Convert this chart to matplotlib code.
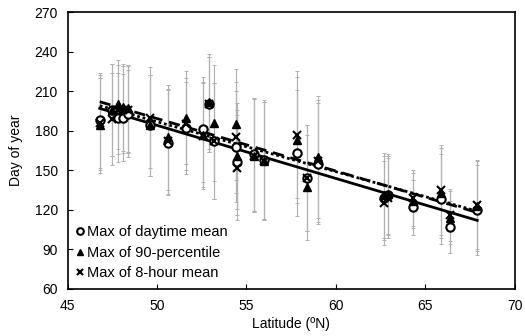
import matplotlib
matplotlib.use("Agg")
import matplotlib.pyplot as plt
import numpy as np

plt.rcParams['font.family'] = ['Liberation Sans', 'DejaVu Sans']

latitude = [46.8, 47.5, 47.8, 48.1, 48.4, 49.6, 50.6, 51.6, 52.6, 52.9, 53.2,
            54.4, 54.5, 55.4, 56.0, 57.8, 58.4, 59.0, 62.7, 62.9, 64.3, 65.9, 66.4, 67.9]
daytime_mean = [188, 196, 190, 190, 193, 184, 171, 182, 181, 200, 172,
                168, 156, 162, 158, 163, 144, 155, 129, 131, 122, 128, 107, 120]
pct90 = [184, 196, 200, 198, 197, 184, 175, 190, 177, 202, 186,
         185, 161, 161, 157, 173, 137, 160, 131, 132, 127, 133, 114, 123]
hour8_mean = [186, 189, 196, 196, 196, 190, 172, 185, 176, 200, 172,
              175, 152, 161, 157, 177, 144, 157, 125, 129, 129, 135, 116, 124]
sd = [36, 35, 34, 33, 33, 38, 40, 35, 40, 36, 44,
      42, 40, 43, 45, 48, 40, 46, 32, 30, 21, 34, 20, 34]

# regression lines: value at 46.8 and at 67.9
fit_lat = [46.8, 67.9]
fit_daytime = [197, 112]
fit_pct90 = [202, 118]
fit_hour8 = [199, 119]

fig = plt.figure(figsize=(5.25, 3.36), dpi=100)
ax = fig.add_axes([0.1286, 0.14, 0.852, 0.824])

err_kw = dict(fmt='none', ecolor='#b0b0b0', elinewidth=0.8, capsize=1.6, capthick=0.7, zorder=1)
for vals in (daytime_mean, pct90, hour8_mean):
    ax.errorbar(latitude, vals, yerr=sd, **err_kw)

ax.plot(fit_lat, fit_daytime, color='black', lw=2.0, ls='-', zorder=2)
ax.plot(fit_lat, fit_pct90, color='black', lw=2.0, ls=(0, (4, 2.5)), zorder=2)
ax.plot(fit_lat, fit_hour8, color='black', lw=2.0, ls=(0, (1, 1)), zorder=2)

ax.plot(latitude, daytime_mean, ls='none', marker='o', ms=6, mfc='white', mec='black', mew=1.5,
        label='Max of daytime mean', zorder=3)
ax.plot(latitude, pct90, ls='none', marker='^', ms=6, mfc='black', mec='black',
        label='Max of 90-percentile', zorder=4)
ax.plot(latitude, hour8_mean, ls='none', marker='x', ms=5.5, mec='black', mew=1.5,
        label='Max of 8-hour mean', zorder=5)

ax.set_xlim(45, 70)
ax.set_ylim(60, 270)
ax.set_xticks(np.arange(45, 71, 5))
ax.set_yticks(np.arange(60, 271, 30))
ax.tick_params(direction='in', labelsize=10, length=3.5, width=0.8, pad=7)
for s in ax.spines.values():
    s.set_linewidth(1.2)
ax.set_xlabel('Latitude (ºN)', fontsize=10, labelpad=3)
ax.set_ylabel('Day of year', fontsize=10, labelpad=8)

leg = ax.legend(loc='lower left', frameon=False, fontsize=10.5, handlelength=0.5,
                handletextpad=0.25, labelspacing=0.45, borderaxespad=0.3, markerscale=0.8,
                borderpad=0.3)

fig.savefig('out.png', dpi=100)
